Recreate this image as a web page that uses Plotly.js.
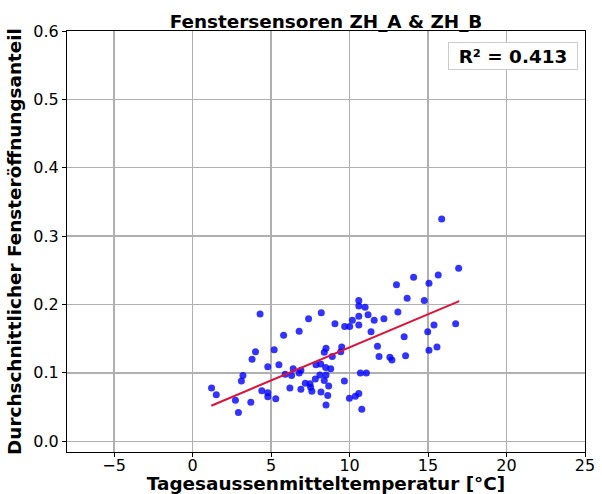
<!DOCTYPE html>
<html>
<head>
<meta charset="utf-8">
<script src="https://cdn.plot.ly/plotly-3.0.1.min.js"></script>
<style>html,body{margin:0;padding:0;background:#fff;}#chart{width:602px;height:494px;}</style>
</head>
<body>
<div id="chart"></div>
<script>
// Daily mean outdoor temperature [°C]
var tempC = [
  4.30, 8.20, 7.39, 6.79, 5.80, 8.50, 8.39, 4.01, 5.20, 3.79,
  5.50, 4.79, 7.86, 8.16, 8.48, 6.41, 6.90, 5.90, 6.31, 6.79,
  3.21, 3.11, 7.82, 8.11, 8.39, 7.18, 7.48, 7.52, 8.67, 1.21,
  1.51, 4.41, 4.79, 6.20, 6.90, 7.60, 8.18, 4.79, 5.30, 2.73,
  3.71, 8.61, 2.92, 8.50, 12.99, 10.59, 10.59, 10.99, 13.08, 10.59,
  11.18, 10.18, 11.57, 12.19, 9.07, 9.69, 10.01, 10.59, 15.06, 13.67,
  14.76, 16.76, 15.38, 11.37, 14.98, 13.48, 11.78, 15.57, 15.06, 9.50,
  9.44, 8.90, 11.88, 12.57, 12.70, 13.57, 8.80, 8.50, 10.69, 11.07,
  9.67, 10.59, 10.37, 9.99, 10.78, 15.87, 16.95, 15.65, 14.08
];
// Mean window opening share
var openShare = [
  0.186, 0.188, 0.179, 0.161, 0.155, 0.136, 0.130, 0.131, 0.134, 0.120,
  0.112, 0.109, 0.112, 0.113, 0.108, 0.106, 0.104, 0.098, 0.096, 0.100,
  0.096, 0.088, 0.091, 0.097, 0.089, 0.085, 0.084, 0.079, 0.081, 0.078,
  0.068, 0.074, 0.071, 0.078, 0.076, 0.073, 0.072, 0.065, 0.062, 0.060,
  0.057, 0.067, 0.042, 0.053, 0.229, 0.206, 0.198, 0.196, 0.189, 0.183,
  0.185, 0.177, 0.177, 0.179, 0.172, 0.168, 0.168, 0.170, 0.231, 0.209,
  0.206, 0.172, 0.170, 0.160, 0.160, 0.153, 0.139, 0.138, 0.133, 0.138,
  0.131, 0.124, 0.124, 0.123, 0.119, 0.125, 0.106, 0.097, 0.100, 0.100,
  0.088, 0.070, 0.066, 0.063, 0.047, 0.325, 0.253, 0.243, 0.240
];
// Regression line as drawn in the reference (end points)
var fitX = [1.19, 16.99];
var fitY = [0.052, 0.205];
var r2Text = 'R² = 0.413';

var font = 'DejaVu Sans, sans-serif';

var data = [
  {
    x: tempC, y: openShare, type: 'scatter', mode: 'markers',
    marker: {color: 'rgba(0,0,255,0.8)', size: 7, line: {width: 0}},
    hoverinfo: 'skip', showlegend: false
  },
  {
    x: fitX, y: fitY, type: 'scatter', mode: 'lines',
    line: {color: '#dc143c', width: 2},
    hoverinfo: 'skip', showlegend: false
  }
];

var axisCommon = {
  showline: true, linecolor: '#000', linewidth: 1, mirror: true,
  showgrid: true, gridcolor: '#b0b0b0', gridwidth: 1.3,
  zeroline: false,
  ticks: 'outside', ticklen: 4, tickwidth: 1, tickcolor: '#000',
  tickfont: {family: font, size: 16, color: '#000'}
};

var layout = {
  width: 602, height: 494,
  margin: {l: 67, r: 17, t: 31, b: 42},
  paper_bgcolor: '#fff', plot_bgcolor: '#fff',
  title: {
    text: '<b>Fenstersensoren ZH_A & ZH_B</b>',
    font: {family: font, size: 18.4, color: '#000'},
    x: 0.5, xref: 'paper', xanchor: 'center',
    y: 1, yref: 'paper', yanchor: 'bottom', pad: {b: 3}
  },
  xaxis: Object.assign({}, axisCommon, {
    range: [-8, 25],
    tickvals: [-5, 0, 5, 10, 15, 20, 25],
    ticklabelstandoff: -5,
    title: {text: '<b>Tagesaussenmitteltemperatur [°C]</b>', font: {family: font, size: 18.4, color: '#000'}, standoff: 1}
  }),
  yaxis: Object.assign({}, axisCommon, {
    range: [-0.0157, 0.6],
    tickvals: [0, 0.1, 0.2, 0.3, 0.4, 0.5, 0.6],
    tickformat: '.1f',
    title: {text: '<b>Durchschnittlicher Fensteröffnungsanteil</b>', font: {family: font, size: 18.4, color: '#000'}, standoff: 6}
  }),
  annotations: [{
    xref: 'paper', yref: 'paper', x: 0.9865, y: 0.974,
    xanchor: 'right', yanchor: 'top',
    text: '<b>' + r2Text + '</b>', showarrow: false,
    width: 124, height: 22, align: 'center', valign: 'middle',
    font: {family: font, size: 18.4, color: '#000'},
    bgcolor: '#fff', bordercolor: '#cccccc', borderwidth: 1, borderpad: 2
  }]
};

Plotly.newPlot('chart', data, layout, {displayModeBar: false, staticPlot: true});
</script>
</body>
</html>
